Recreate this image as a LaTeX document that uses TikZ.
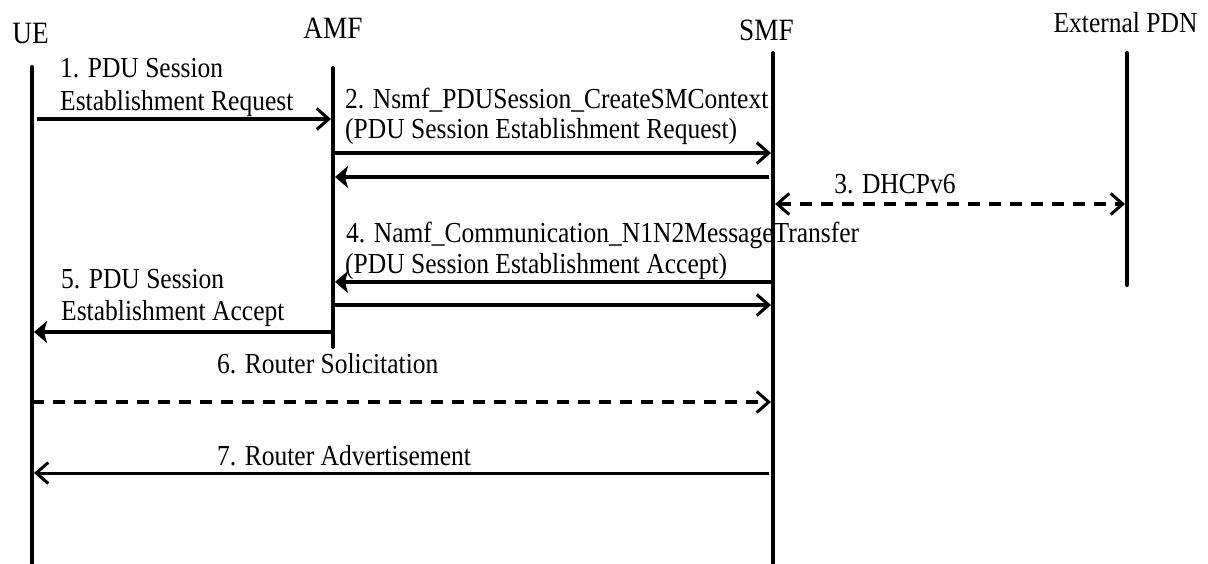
\documentclass[tikz,border=0pt]{standalone}
\usepackage{fontspec}
\setmainfont{Liberation Serif}
\newfontfamily\condserif[FakeStretch=0.88]{Liberation Serif}
\usetikzlibrary{arrows.meta}
\begin{document}
\begin{tikzpicture}[x=1pt,y=-1pt,
  life/.style={line width=4pt,line cap=round},
  msg/.style={line width=4pt},
  thinmsg/.style={line width=3pt},
  dash4/.style={dash pattern=on 12pt off 9pt},
  openhead/.style={-{Straight Barb[length=12pt,width=21pt,line width=3pt]}},
  bothopen/.style={{Straight Barb[length=12pt,width=21pt,line width=3pt]}-{Straight Barb[length=12pt,width=21pt,line width=3pt]}},
  fillhead/.style={-{Stealth[length=13pt,width=22pt,inset=3pt]}},
  lbl/.style={anchor=base west,inner sep=0pt,font=\condserif\fontsize{29}{34}\selectfont},
  hdr/.style={anchor=base,inner sep=0pt,font=\condserif\fontsize{31}{36}\selectfont},
  hdrs/.style={anchor=base,inner sep=0pt,font=\condserif\fontsize{29}{34}\selectfont}]
\useasboundingbox (0,0) rectangle (1208,563);
% headers
\node[hdr] (ueH) at (30.5,43) {UE};
\node[hdr] (amfH) at (333,38) {AMF};
\node[hdr] (smfH) at (766.5,40) {SMF};
\node[hdrs] (pdnH) at (1125.5,32) {External PDN};
% lifelines
\coordinate (ueT) at (32,67);   \coordinate (ueB) at (32,566);
\coordinate (amfT) at (333,68); \coordinate (amfB) at (333,347);
\coordinate (smfT) at (773,53); \coordinate (smfB) at (773,566);
\coordinate (pdnT) at (1127,53); \coordinate (pdnB) at (1127,285);
\draw[life] (ueT) -- (ueB);
\draw[life] (amfT) -- (amfB);
\draw[life] (smfT) -- (smfB);
\draw[life] (pdnT) -- (pdnB);
% message levels
\coordinate (m1) at (0,119);
\coordinate (m2) at (0,153);
\coordinate (m2r) at (0,177);
\coordinate (m3) at (0,204);
\coordinate (m4) at (0,282);
\coordinate (m4r) at (0,305);
\coordinate (m5) at (0,332);
\coordinate (m6) at (0,402);
\coordinate (m7) at (0,473);
% 1
\node[lbl] (l1a) at (60,77) {1. PDU Session};
\node[lbl] (l1b) at (60,110) {Establishment Request};
\draw[msg,openhead,shorten <=5pt,shorten >=2pt] (ueT |- m1) -- (amfT |- m1);
% 2
\node[lbl] (l2a) at (345,108) {2. Nsmf\_PDUSession\_CreateSMContext};
\node[lbl] (l2b) at (345,138) {(PDU Session Establishment Request)};
\draw[msg,openhead,shorten >=2pt] (amfT |- m2) -- (smfT |- m2);
\draw[msg,fillhead,shorten <=4pt,shorten >=2pt] (smfT |- m2r) -- (amfT |- m2r);
% 3
\node[lbl,anchor=base] (l3) at (895,193) {3. DHCPv6};
\draw[msg,dash4,bothopen,shorten <=2pt,shorten >=2pt] (smfT |- m3) -- (pdnT |- m3);
% 4
\node[lbl] (l4a) at (346,242) {4. Namf\_Communication\_N1N2MessageTransfer};
\node[lbl] (l4b) at (345,273) {(PDU Session Establishment Accept)};
\draw[msg,fillhead,shorten >=2pt] (smfT |- m4) -- (amfT |- m4);
\draw[msg,openhead,shorten >=2pt] (amfT |- m4r) -- (smfT |- m4r);
% 5
\node[lbl] (l5a) at (61,288) {5. PDU Session};
\node[lbl] (l5b) at (61,320) {Establishment Accept};
\draw[msg,fillhead,shorten >=2pt] (amfT |- m5) -- (ueT |- m5);
% 6
\node[lbl] (l6) at (217,373) {6. Router Solicitation};
\draw[msg,dash4,openhead,shorten >=2pt] (ueT |- m6) -- (smfT |- m6);
% 7
\node[lbl] (l7) at (217,465) {7. Router Advertisement};
\draw[thinmsg,openhead,shorten <=4pt,shorten >=2pt] (smfT |- m7) -- (ueT |- m7);
\end{tikzpicture}
\end{document}
